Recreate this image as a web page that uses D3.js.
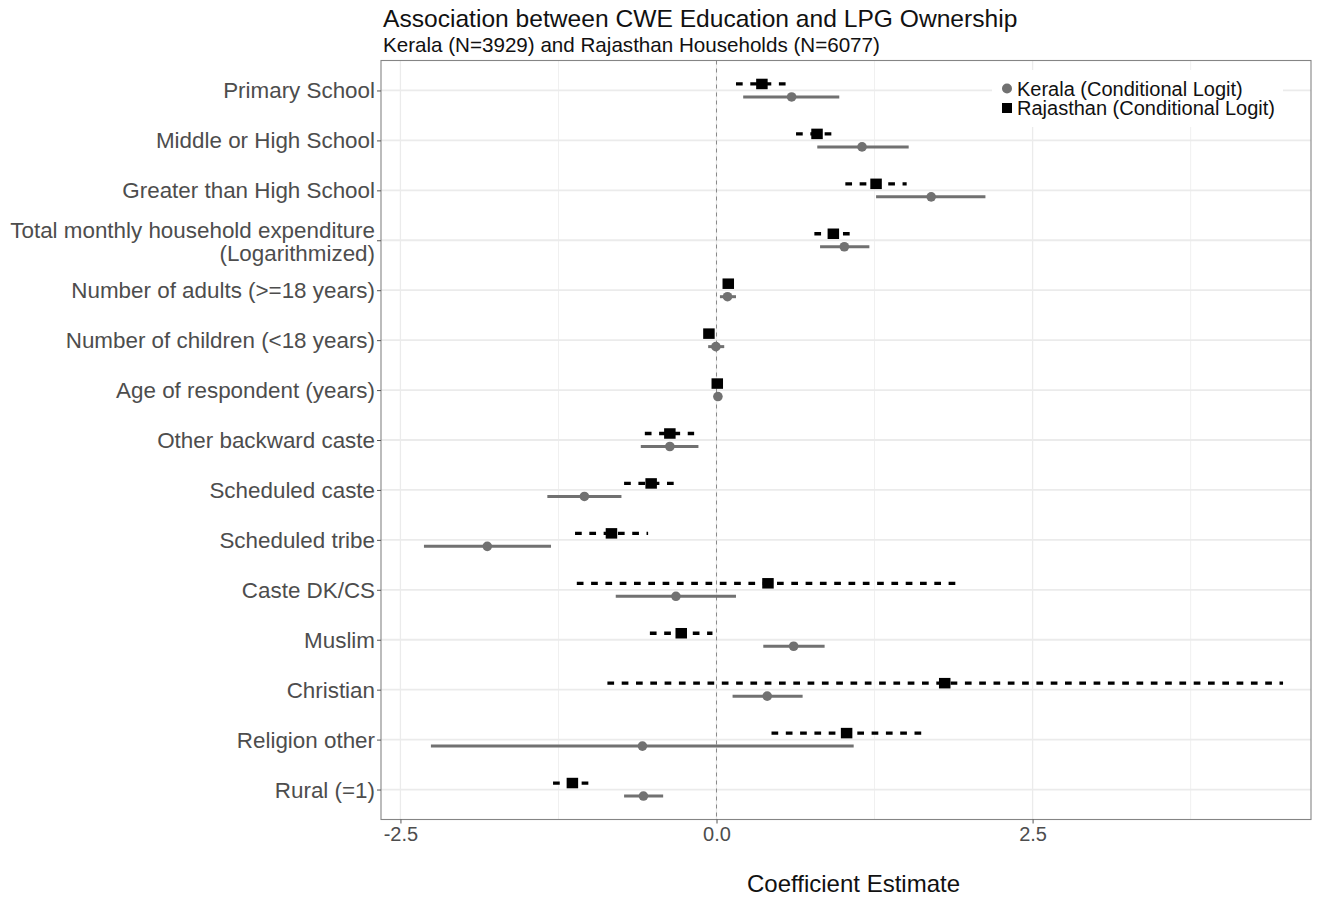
<!DOCTYPE html>
<html>
<head>
<meta charset="utf-8">
<script src="https://cdn.jsdelivr.net/npm/d3@7"></script>
<style>
    body { margin: 0; background: #fff; }
    svg { font-family: "Liberation Sans", Arial, sans-serif; display: block; }
</style>
</head>
<body>
<div id="chart"></div>
<script>
// rows, top to bottom
const categories = [
    'Primary School', 'Middle or High School', 'Greater than High School',
    'Total monthly household expenditure\n(Logarithmized)',
    'Number of adults (>=18 years)', 'Number of children (<18 years)', 'Age of respondent (years)',
    'Other backward caste', 'Scheduled caste', 'Scheduled tribe', 'Caste DK/CS',
    'Muslim', 'Christian', 'Religion other', 'Rural (=1)'
];

// Kerala (conditional logit): estimate and CI bounds
const keralaEst = [0.594, 1.151, 1.698, 1.011, 0.087, -0.005, 0.011, -0.369, -1.045, -1.813, -0.321, 0.610, 0.401, -0.586, -0.578];
const keralaLo  = [0.211, 0.797, 1.262, 0.819, 0.027, -0.066, 0.005, -0.599, -1.338, -2.314, -0.797, 0.370, 0.127, -2.259, -0.731];
const keralaHi  = [0.971, 1.520, 2.127, 1.209, 0.154, 0.061, 0.017, -0.143, -0.752, -1.309, 0.154, 0.855, 0.681, 1.085, -0.422];

// Rajasthan (conditional logit)
const rajEst = [0.359, 0.795, 1.262, 0.924, 0.093, -0.060, 0.006, -0.369, -0.517, -0.831, 0.407, -0.279, 1.805, 1.029, -1.140];
const rajLo  = [0.154, 0.629, 1.019, 0.774, 0.060, -0.090, 0.000, -0.567, -0.731, -1.119, -1.105, -0.527, -0.863, 0.435, -1.293];
const rajHi  = [0.549, 0.914, 1.504, 1.056, 0.125, -0.030, 0.012, -0.177, -0.335, -0.541, 1.903, -0.032, 4.481, 1.629, -1.008];

const xTicks = [-2.5, 0, 2.5];
const xMinorTicks = [-1.25, 1.25, 3.75];
const seriesNames = ['Kerala (Conditional Logit)', 'Rajasthan (Conditional Logit)'];

class CoefPlot {
    constructor(_parent) {
        this.parent = _parent;
        this.width = 1325;
        this.height = 897;
        // panel box. scaleRight is where the x scale ends (data range + 5%),
        // the visible box stops a bit before that
        this.panel = {left: 381, right: 1311, scaleRight: 1326, top: 60.5, bottom: 819.5};
        this.dodge = 6.5;
        this.grey = '#717171';

        this.svg = this.parent.append('svg')
            .attr('width', this.width)
            .attr('height', this.height);

        this.populate();
    }

    populate() {
        const p = this.panel;
        const svg = this.svg;

        // data range + 5% on each side, ggplot-style
        const lo = d3.min([...keralaLo, ...rajLo]);
        const hi = d3.max([...keralaHi, ...rajHi]);
        const pad = (hi - lo) * 0.05;

        const x = d3.scaleLinear().domain([lo - pad, hi + pad]).range([p.left, p.scaleRight]);
        const y = d3.scalePoint().domain(categories).range([p.top, p.bottom]).padding(0.6);

        const rows = categories.map((c, i) => ({
            cat: c,
            k: {est: keralaEst[i], lo: keralaLo[i], hi: keralaHi[i]},
            r: {est: rajEst[i], lo: rajLo[i], hi: rajHi[i]}
        }));

        // Gridlines
        const grid = svg.append('g');
        grid.selectAll('line.minor').data(xMinorTicks).join('line')
            .attr('class', 'minor')
            .attr('x1', x).attr('x2', x)
            .attr('y1', p.top).attr('y2', p.bottom)
            .attr('stroke', '#f0f0f0').attr('stroke-width', 1);
        grid.selectAll('line.vmajor').data(xTicks).join('line')
            .attr('class', 'vmajor')
            .attr('x1', x).attr('x2', x)
            .attr('y1', p.top).attr('y2', p.bottom)
            .attr('stroke', '#ebebeb').attr('stroke-width', 1.3);
        grid.selectAll('line.hmajor').data(categories).join('line')
            .attr('class', 'hmajor')
            .attr('x1', p.left).attr('x2', p.right)
            .attr('y1', d => y(d)).attr('y2', d => y(d))
            .attr('stroke', '#ebebeb').attr('stroke-width', 1.8);

        // zero reference line
        svg.append('line')
            .attr('x1', x(0)).attr('x2', x(0))
            .attr('y1', p.top).attr('y2', p.bottom)
            .attr('stroke', '#8a8a8a').attr('stroke-width', 1)
            .attr('stroke-dasharray', '4,4');

        // Kerala: grey solid line + circle, dodged down
        const kG = svg.append('g');
        kG.selectAll('line').data(rows).join('line')
            .attr('x1', d => x(d.k.lo)).attr('x2', d => x(d.k.hi))
            .attr('y1', d => y(d.cat) + this.dodge).attr('y2', d => y(d.cat) + this.dodge)
            .attr('stroke', this.grey).attr('stroke-width', 3);
        kG.selectAll('circle').data(rows).join('circle')
            .attr('cx', d => x(d.k.est))
            .attr('cy', d => y(d.cat) + this.dodge)
            .attr('r', 4.8)
            .attr('fill', this.grey);

        // Rajasthan: black dashed line + square, dodged up
        const sq = 11.5;
        const rG = svg.append('g');
        rG.selectAll('line').data(rows).join('line')
            .attr('x1', d => x(d.r.lo)).attr('x2', d => x(d.r.hi))
            .attr('y1', d => y(d.cat) - this.dodge).attr('y2', d => y(d.cat) - this.dodge)
            .attr('stroke', '#000').attr('stroke-width', 3.3)
            .attr('stroke-dasharray', '6.7,7.6');
        rG.selectAll('rect').data(rows).join('rect')
            .attr('x', d => x(d.r.est) - sq / 2)
            .attr('y', d => y(d.cat) - this.dodge - sq / 2 + 0.5)
            .attr('width', sq).attr('height', sq - 1)
            .attr('fill', '#000');

        // Panel border
        svg.append('rect')
            .attr('x', p.left).attr('y', p.top)
            .attr('width', p.right - p.left).attr('height', p.bottom - p.top)
            .attr('fill', 'none').attr('stroke', '#858585').attr('stroke-width', 1.1);

        // Axes
        const yAxis = svg.append('g')
            .attr('transform', `translate(${p.left},0)`)
            .call(d3.axisLeft(y).tickSize(4).tickPadding(3).tickFormat(''));
        yAxis.select('.domain').remove();
        yAxis.selectAll('.tick line').attr('stroke', '#555');

        // y labels (one has two lines so do them by hand)
        svg.append('g').selectAll('text').data(categories).join('text')
            .attr('x', p.left - 6)
            .attr('y', d => y(d))
            .attr('text-anchor', 'end')
            .attr('font-size', 22.4)
            .attr('fill', '#4d4d4d')
            .each(function(d) {
                const lines = d.split('\n');
                const lh = 23;
                const off = -(lines.length - 1) * lh / 2;
                d3.select(this).selectAll('tspan').data(lines).join('tspan')
                    .attr('x', p.left - 6)
                    .attr('dy', (l, i) => i === 0 ? (off + (lines.length > 1 ? 9.5 : 8)) : lh)
                    .text(l => l);
            });

        const xAxis = svg.append('g')
            .attr('transform', `translate(0,${p.bottom})`)
            .call(d3.axisBottom(x).tickValues(xTicks).tickSize(4).tickPadding(3).tickFormat(d3.format('.1f')));
        xAxis.select('.domain').remove();
        xAxis.selectAll('.tick line').attr('stroke', '#555');
        xAxis.selectAll('.tick text')
            .attr('font-size', 20)
            .attr('fill', '#4d4d4d')
            .attr('font-family', '"Liberation Sans", Arial, sans-serif')
            .text(d => d3.format('.1f')(d).replace('−', '-'));

        // Axis title
        svg.append('text')
            .attr('x', (p.left + p.scaleRight) / 2)
            .attr('y', 892)
            .attr('text-anchor', 'middle')
            .attr('font-size', 24)
            .attr('fill', '#111')
            .text('Coefficient Estimate');

        // Title + subtitle
        svg.append('text')
            .attr('x', 383).attr('y', 27)
            .attr('font-size', 24.6)
            .attr('fill', '#111')
            .text('Association between CWE Education and LPG Ownership');
        svg.append('text')
            .attr('x', 383).attr('y', 52)
            .attr('font-size', 20.6)
            .attr('fill', '#111')
            .text('Kerala (N=3929) and Rajasthan Households (N=6077)');

        // Legend, white box over the grid
        const lg = svg.append('g');
        lg.append('rect')
            .attr('x', 992).attr('y', 70)
            .attr('width', 291).attr('height', 57)
            .attr('fill', '#fff');
        lg.append('circle')
            .attr('cx', 1007).attr('cy', 88.5).attr('r', 5)
            .attr('fill', this.grey);
        lg.append('rect')
            .attr('x', 1002).attr('y', 103).attr('width', 10).attr('height', 10)
            .attr('fill', '#000');
        lg.selectAll('text').data(seriesNames).join('text')
            .attr('x', 1017)
            .attr('y', (d, i) => 95.5 + i * 19.5)
            .attr('font-size', 20)
            .attr('fill', '#111')
            .text(d => d);
    }
}

const plot = new CoefPlot(d3.select('#chart'));
</script>
</body>
</html>
